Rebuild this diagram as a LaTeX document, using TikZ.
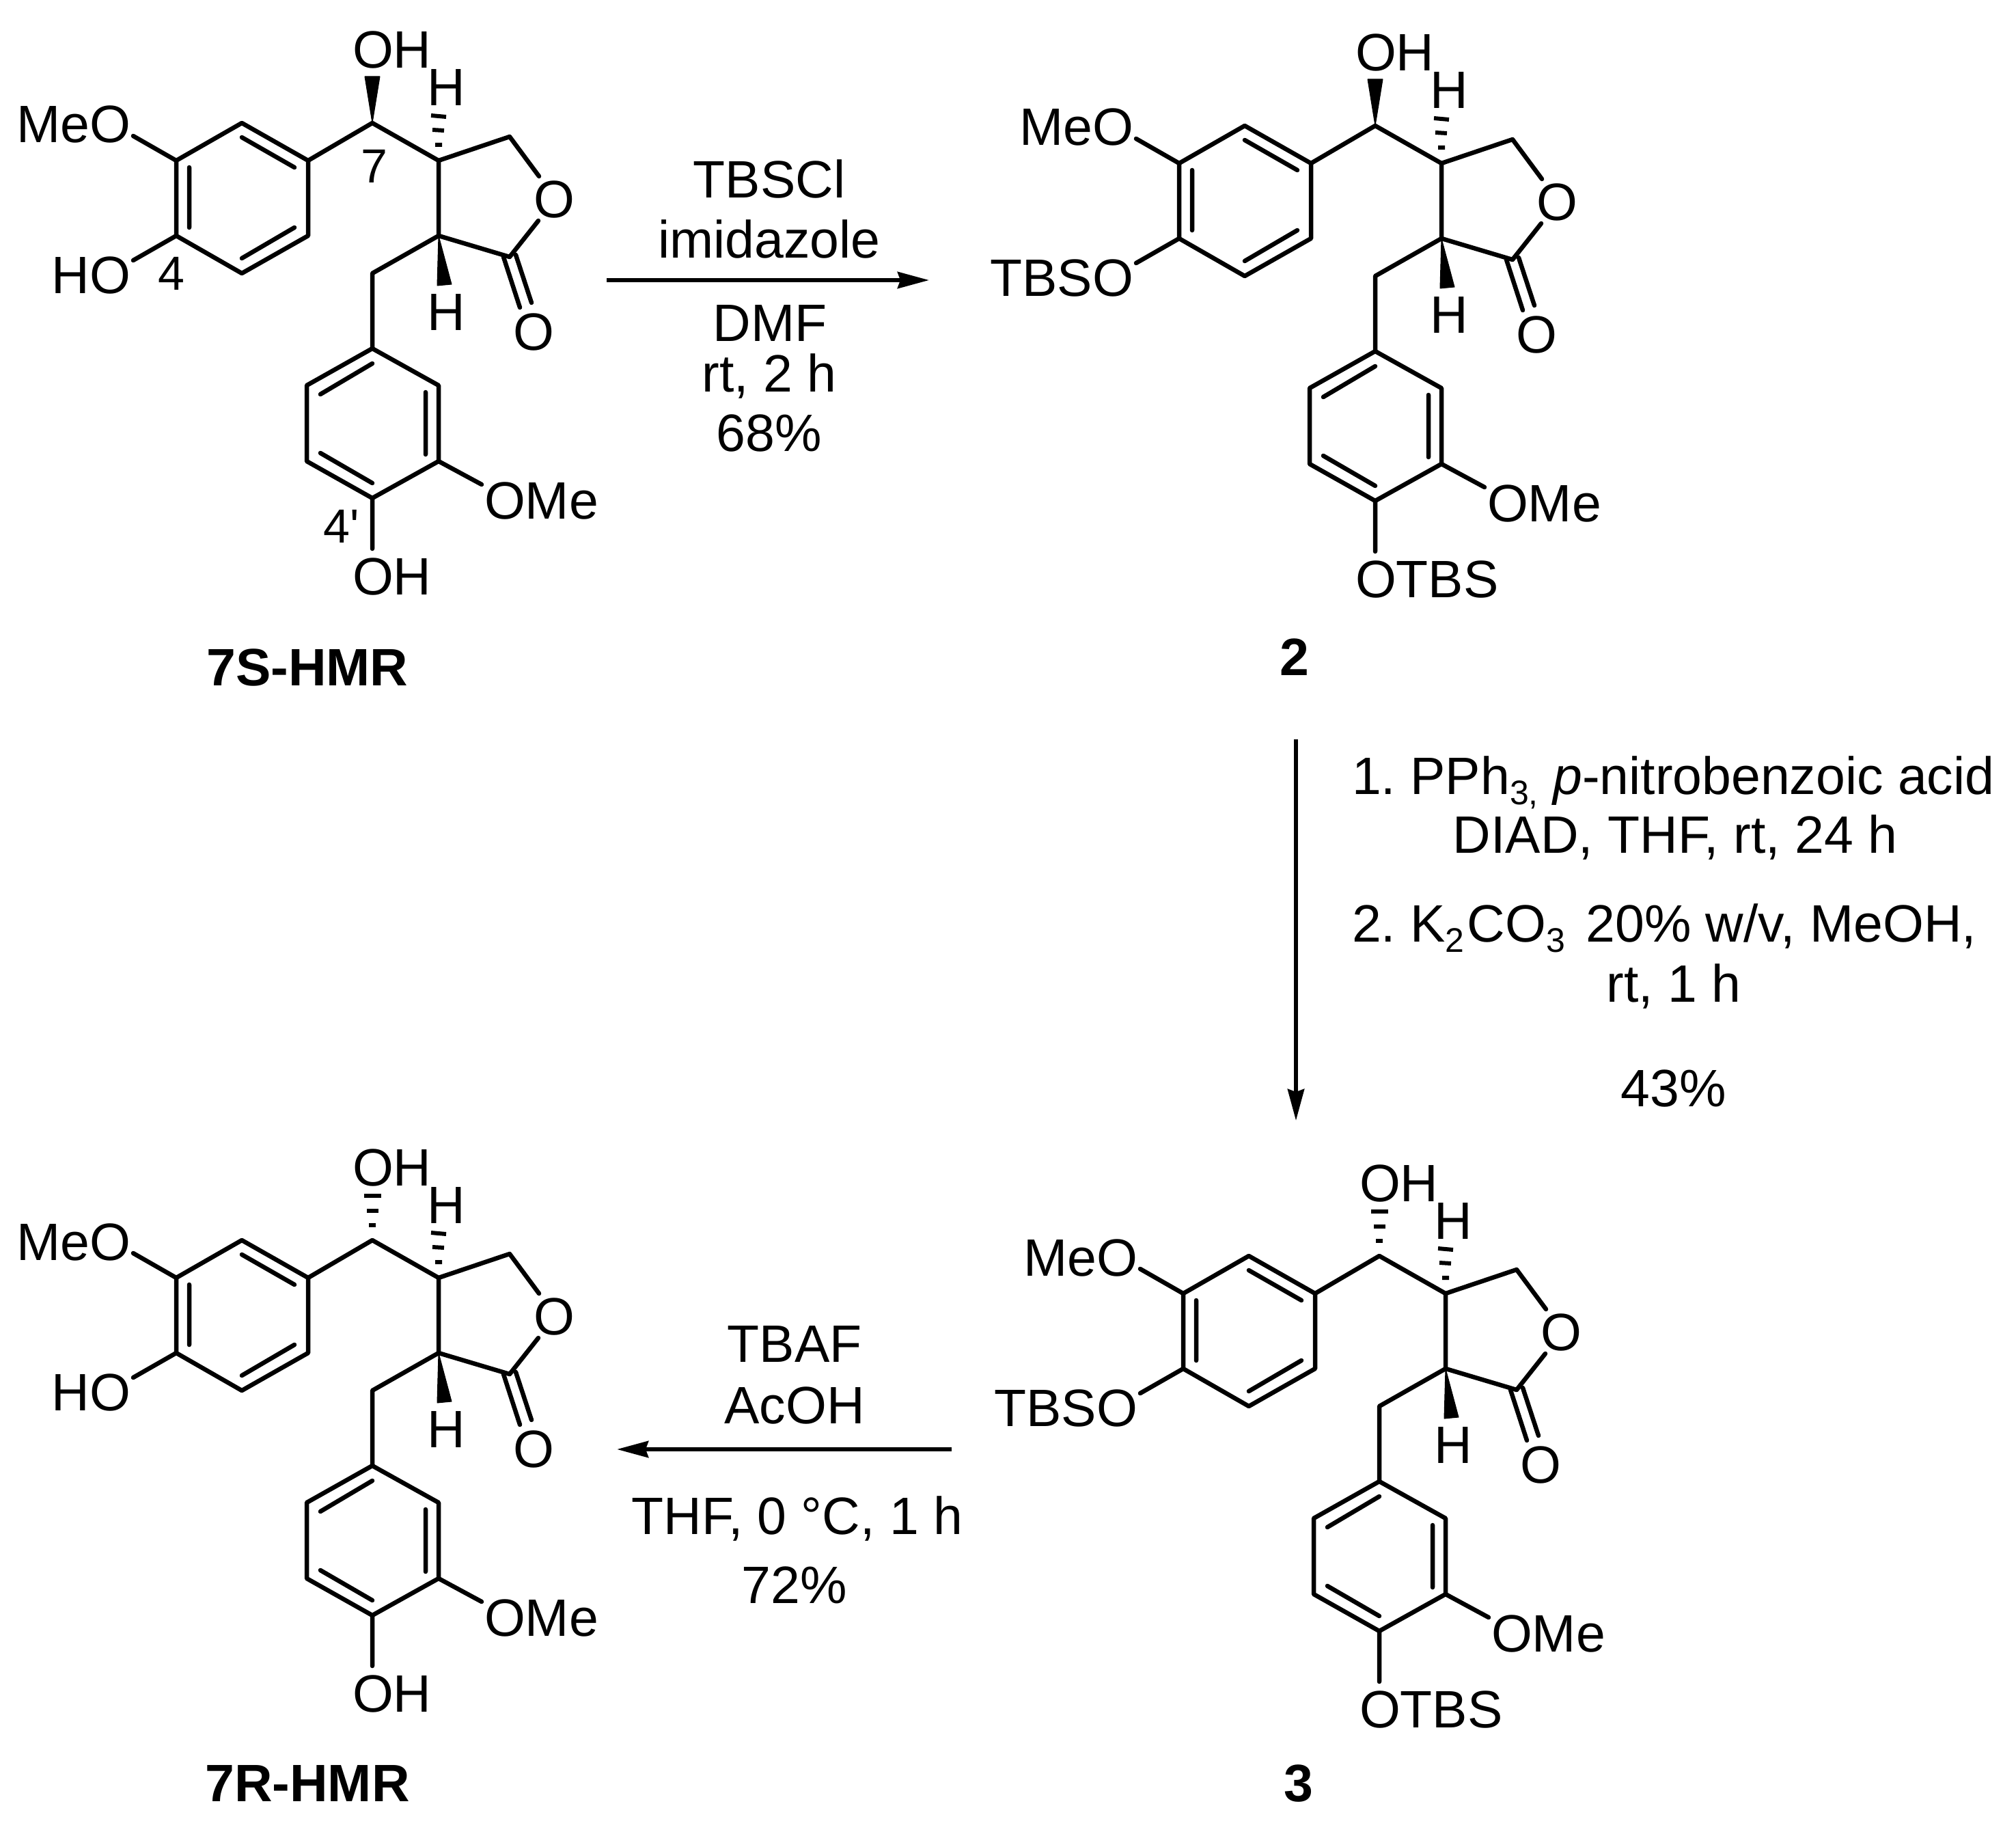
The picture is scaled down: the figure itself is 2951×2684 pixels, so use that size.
\documentclass[tikz,border=0pt]{standalone}
\usepackage{fontspec}
\setmainfont{Liberation Sans}
\newfontfamily\plainf{Liberation Sans}
\usetikzlibrary{arrows.meta}
\frenchspacing
\newcommand{\fs}{\frenchspacing\fontsize{77}{84}\selectfont}
\newcommand{\fn}{\fontsize{70}{76}\selectfont}
\newcommand{\fb}{\fontsize{77}{84}\selectfont\bfseries}
\newcommand{\fsub}{\fontsize{50}{54}\selectfont}
\newcommand{\subs}[1]{\raisebox{-15pt}{\fsub #1}}
\tikzset{
  bond/.style={line width=6.5pt,line cap=round,line join=round,black},
  wedgefill/.style={fill=black,draw=black,line width=1pt,line join=round},
  hashbar/.style={line width=6pt,black},
  rxn/.style={line width=6pt,black,-{Stealth[length=46pt,width=24pt,inset=4pt]}},
  lab/.style={inner sep=0pt,outer sep=0pt,font=\fs},
  num/.style={inner sep=0pt,outer sep=0pt,font=\fn},
  cmpd/.style={inner sep=0pt,outer sep=0pt,font=\fb},
  reag/.style={inner sep=0pt,outer sep=0pt,font=\fs},
}
% #1 shift, #2 prefix, #3 left lower label, #4 bottom label, #5 stereo code, #6 extra
\newcommand{\lignan}[6]{%
\begin{scope}[shift={#1},name prefix=#2-]
 \coordinate (a1) at (354,180); \coordinate (a2) at (451,235); \coordinate (a3) at (451,345);
 \coordinate (a4) at (354,400); \coordinate (a5) at (258,345); \coordinate (a6) at (258,235);
 \coordinate (c7) at (545,180); \coordinate (c8) at (642,235); \coordinate (c5) at (746,200);
 \coordinate (c1) at (746,376); \coordinate (c9) at (642,345); \coordinate (c6) at (545,400);
 \coordinate (b1) at (545,510); \coordinate (b2) at (642,564); \coordinate (b3) at (642,675);
 \coordinate (b4) at (545,729); \coordinate (b5) at (449,675); \coordinate (b6) at (449,564);
 \coordinate (oa) at (195,199); \coordinate (ob) at (195,381);
 \coordinate (or1) at (789,258); \coordinate (or2) at (788,323);
 \coordinate (d1) at (737,376); \coordinate (d2) at (761,450); \coordinate (d3) at (755,373); \coordinate (d4) at (778,443);
 \coordinate (ome) at (705,709); \coordinate (obot) at (545,803);
 \draw[bond] (a1)--(a2)--(a3)--(a4)--(a5)--(a6)--cycle;
 \draw[bond] (b1)--(b2)--(b3)--(b4)--(b5)--(b6)--cycle;
 \draw[bond] (a2)--(c7)--(c8)--(c9)--(c6)--(b1);
 \draw[bond] (c8)--(c5)--(or1) (or2)--(c1)--(c9);
 \draw[bond] (d1)--(d2) (d3)--(d4);
 \draw[bond] (a6)--(oa) (a5)--(ob) (b3)--(ome) (b4)--(obot);
 \draw[bond] (354,201)--(431,245) (431,333)--(354,378) (277,245)--(277,333);
 \draw[bond] (545,532)--(469,577) (623,574)--(623,665) (469,663)--(545,707);
 % stereo
 #5
 \draw[hashbar] (631,169)--(653,171) (633,190)--(650,191) (637,212)--(647,212);
 \fill[wedgefill] (c9)--(640,418)--(661,416)--cycle;
 % labels
 \node[lab,anchor=base west] (oh7) at (516,100) {OH};
 \node[lab,anchor=base] (h8) at (653,155) {H};
 \node[lab,anchor=base] (h9) at (653,483) {H};
 \node[lab,anchor=base] (ocarb) at (781,512) {O};
 \node[lab,anchor=base] (oring) at (811,318) {O};
 \node[lab,anchor=base east] (meo) at (191,209) {MeO};
 \node[lab,anchor=base east] (hoa) at (191,429) {#3};
 \node[lab,anchor=base west] (omeb) at (709,759) {OMe};
 \node[lab,anchor=base west] (ohb) at (516,870) {#4};
 #6
\end{scope}}
\newcommand{\wedgeup}{\fill[wedgefill] (c7)--(534,112)--(556,112)--cycle;}
\newcommand{\hashup}{\draw[hashbar] (533,115)--(558,115) (537,137)--(554,137) (540,158)--(550,158);}
\begin{document}
\begin{tikzpicture}[x=1pt,y=-1pt]
\useasboundingbox (0,0) rectangle (2951,2684);
\fill[white] (0,0) rectangle (2951,2684);
\lignan{(0,0)}{m1}{HO}{OH}{\wedgeup}{%
 \node[num,anchor=base] (n7) at (548,268) {7};
 \node[num,anchor=base] (n4) at (251,424) {4};
 \node[num,anchor=base] (n4p) at (500,794) {4{\plainf '}};}
\lignan{(1468,4)}{m2}{TBSO}{OTBS}{\wedgeup}{}
\lignan{(1474,1658)}{m3}{TBSO}{OTBS}{\hashup}{}
\lignan{(0,1635)}{m4}{HO}{OH}{\hashup}{}
\node[cmpd,anchor=base] (n1) at (450,1003) {7S-HMR};
\node[cmpd,anchor=base] (n2) at (1895,988) {2};
\node[cmpd,anchor=base] (n3) at (1901,2636) {3};
\node[cmpd,anchor=base] (n4) at (450,2636) {7R-HMR};
% reaction arrows
\coordinate (r1s) at (888,410); \coordinate (r1e) at (1360,410);
\coordinate (r2s) at (1897,1082); \coordinate (r2e) at (1897,1640);
\coordinate (r3s) at (1393,2121); \coordinate (r3e) at (903,2121);
\draw[rxn] (r1s)--(r1e);
\draw[rxn] (r2s)--(r2e);
\draw[rxn] (r3s)--(r3e);
% reagents
\node[reag,anchor=base] (t1) at (1126,289) {TBSCl};
\node[reag,anchor=base] (t2) at (1126,377) {imidazole};
\node[reag,anchor=base] (t3) at (1127,499) {DMF};
\node[reag,anchor=base] (t4) at (1126,573) {rt, 2 h};
\node[reag,anchor=base] (t5) at (1126,660) {68\%};
\node[reag,anchor=base west] (u1) at (1979,1162) {1. PPh\subs{3,} \textit{p}-nitrobenzoic acid};
\node[reag,anchor=base] (u2) at (2452,1248) {DIAD, THF, rt, 24 h};
\node[reag,anchor=base west] (u3) at (1979,1378) {2. K\subs{2}\hspace{4pt}CO\subs{3}\hspace{9pt} 20\% w/v, MeOH,};
\node[reag,anchor=base] (u4) at (2450,1466) {rt, 1 h};
\node[reag,anchor=base] (u5) at (2450,1619) {43\%};
\node[reag,anchor=base] (v1) at (1163,1993) {TBAF};
\node[reag,anchor=base] (v2) at (1163,2083) {AcOH};
\node[reag,anchor=base] (v3) at (1167,2245) {THF, 0 °C, 1 h};
\node[reag,anchor=base] (v4) at (1163,2346) {72\%};
\end{tikzpicture}
\end{document}
